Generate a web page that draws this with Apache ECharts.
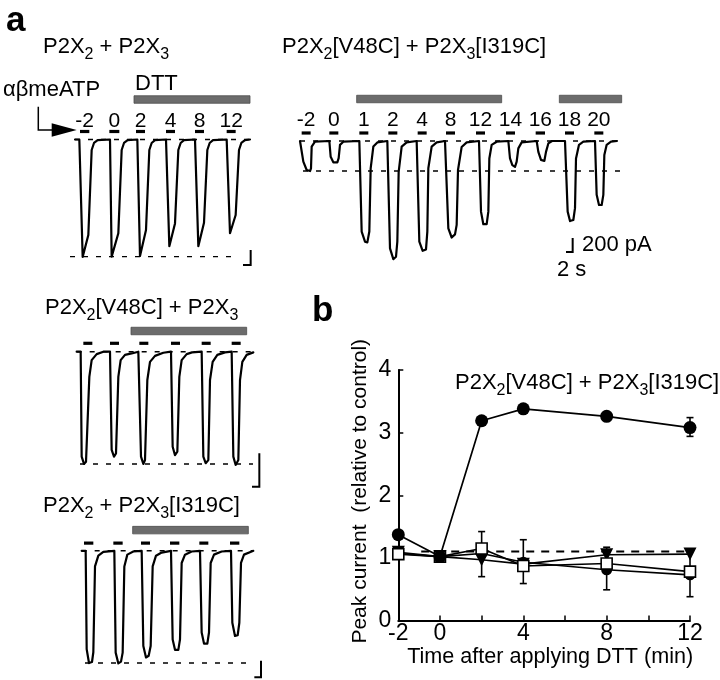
<!DOCTYPE html>
<html><head><meta charset="utf-8">
<script src="https://cdn.jsdelivr.net/npm/echarts@6/dist/echarts.min.js"></script>
<style>html,body{margin:0;padding:0;background:#fff}#c{width:720px;height:680px}</style>
</head><body><div id="c"></div>
<script>
// ===== Panel a: current traces (time in s, current in pA) =====
// P2X2 + P2X3
const tlTrace = [
 [1.5,0],
 [2.8,0],[3.8,-1680],[5.5,-1365],[6.5,-150],[7.2,-50],[8.3,-10],
 [12.0,0],[12.5,-1675],[14.5,-1340],[15.5,-150],[16.2,-50],[17.3,-10],
 [20.2,0],[21.0,-1665],[22.8,-1295],[23.8,-150],[24.5,-50],[25.5,-10],
 [28.8,0],[29.8,-1525],[31.5,-1200],[32.5,-150],[33.2,-50],[34.2,-10],
 [37.5,0],[38.5,-1525],[40.2,-1190],[41.2,-150],[41.9,-50],[42.9,-10],
 [47.0,0],[48.0,-1340],[49.7,-1080],[50.7,-150],[51.4,-50],[52.5,-10],
 [54.0,0]
];
const tlApps = [[3.0,5.8],[11.8,14.8],[19.8,22.5],[28.8,31.5],[37.5,40.2],[47.0,49.7]];
const tlLabels = ['-2','0','2','4','8','12'];
const tlDTT = [[19.2,54.0]];
const tlRef = -1675;
const tlScale = [2.3, 215];

// P2X2[V48C] + P2X3[I319C]
const trTrace = [
 [0,0],
 [0.5,0],[1.0,-295],[2.0,-415],[3.0,-430],[3.3,-390],[3.5,-80],[4.5,-10],
 [8.8,0],[9.2,-225],[10.0,-305],[11.2,-305],[11.6,-245],[12.0,-55],[13.0,-10],
 [17.8,0],[18.5,-1295],[19.5,-1440],[20.2,-1450],[20.8,-1295],[21.2,-390],[22.0,-80],[23.2,-20],
 [26.2,0],[27.0,-1535],[28.0,-1690],[28.8,-1655],[29.2,-1440],[29.6,-440],[30.5,-80],[32.0,-20],
 [35.0,0],[35.8,-1440],[36.8,-1570],[37.8,-1550],[38.2,-1295],[38.5,-390],[39.5,-80],[41.0,-20],
 [43.5,0],[44.5,-1250],[45.5,-1380],[46.5,-1335],[47.0,-1200],[47.4,-415],[48.5,-85],[50.0,-20],
 [53.7,0],[54.3,-1010],[55.0,-1190],[56.0,-1190],[56.5,-1010],[56.8,-250],[57.5,-55],[59.0,-10],
 [62.5,0],[63.0,-250],[63.7,-345],[64.5,-370],[65.0,-295],[65.5,-105],[66.5,-20],
 [71.0,0],[71.5,-155],[72.3,-270],[73.3,-285],[73.8,-155],[74.5,-35],[75.6,0],
 [79.5,0],[80.3,-1010],[81.0,-1145],[82.0,-1130],[82.5,-960],[82.8,-250],[83.7,-55],[85.0,-10],
 [88.5,0],[89.0,-770],[89.7,-915],[90.5,-915],[91.0,-770],[91.3,-200],[92.0,-55],[93.3,-10],
 [95.1,0]
];
const trApps = [[0.5,3.2],[8.8,11.5],[17.8,20.5],[26.5,29.2],[35.3,38.0],[43.8,46.5],[52.8,55.5],[61.8,64.5],[70.7,73.5],[79.5,82.2],[88.3,91.0]];
const trLabels = ['-2','0','1','2','4','8','12','14','16','18','20'];
const trDTT = [[17.0,60.5],[77.8,96.5]];
const trRef = -430;
const trScale = [2, 200];

// P2X2[V48C] + P2X3
const mlTrace = [
 [0.5,0],
 [1.7,0],[2.0,-1500],[2.7,-1605],[3.3,-1575],[4.3,-360],[5.0,-120],[6.5,-35],[8.5,0],
 [10.5,0],[11.0,-1405],[11.7,-1500],[12.3,-1455],[13.0,-360],[13.7,-120],[15.0,-45],[17.0,-25],[19.0,0],
 [19.3,0],[19.8,-1500],[20.5,-1605],[21.0,-1550],[21.7,-405],[22.5,-145],[24.0,-60],[26.5,-15],
 [28.8,0],[29.3,-1360],[30.0,-1480],[30.7,-1430],[31.3,-360],[32.0,-120],[33.5,-35],[35.1,-10],
 [38.0,0],[38.5,-1500],[39.2,-1595],[40.0,-1550],[40.5,-405],[41.3,-145],[42.7,-45],[45.0,-10],
 [47.0,0],[47.5,-1500],[48.2,-1620],[49.0,-1550],[49.5,-405],[50.2,-145],[51.5,-45],[53.5,-10]
];
const mlApps = [[2.5,5.2],[10.5,13.2],[19.3,22.0],[28.8,31.5],[38.0,40.7],[47.0,49.7]];
const mlDTT = [[16.8,51.5]];
const mlRef = -1605;
const mlScale = [2.2, 478];

// P2X2 + P2X3[I319C]
const blTrace = [
 [2.0,0],
 [3.2,0],[3.5,-1415],[4.2,-1615],[5.1,-1600],[5.5,-1460],[6.0,-225],[7.0,-70],[8.5,-15],
 [11.8,0],[12.2,-1465],[13.0,-1620],[13.8,-1595],[14.3,-1465],[14.8,-225],[15.7,-55],[17.5,-10],
 [20.0,0],[20.5,-1370],[21.3,-1535],[22.1,-1510],[22.7,-1370],[23.3,-225],[24.3,-70],[26.0,-25],
 [28.8,0],[29.3,-1275],[30.0,-1425],[31.0,-1425],[31.5,-1275],[32.0,-175],[33.0,-55],[35.0,-10],
 [37.5,0],[38.0,-1175],[38.7,-1335],[39.7,-1335],[40.2,-1175],[40.7,-175],[41.7,-55],[44.0,-10],
 [46.8,0],[47.2,-1035],[48.0,-1225],[48.8,-1215],[49.3,-1035],[49.8,-175],[50.7,-55],[53.0,-10],[53.5,0]
];
const blApps = [[2.7,5.5],[11.5,14.3],[19.8,22.5],[28.5,31.3],[37.3,40.0],[46.5,49.3]];
const blDTT = [[17.3,52.0]];
const blRef = -1615;
const blScale = [2, 237];

// ===== Panel b: peak current relative to control =====
const timeMin = [-2, 0, 2, 4, 8, 12];
const xTickLabels = [-2, 0, 4, 8, 12];
const v48cI319c = [1.37, 1.02, 3.19, 3.38, 3.26, 3.08];
const wtPair    = [1.07, 1.02, 1.07, 0.93, 0.81, 0.73];
const v48cWt    = [1.09, 1.02, 0.97, 0.90, 1.05, 1.06];
const wtI319c   = [1.06, 1.02, 1.15, 0.87, 0.91, 0.78];
const errX  = [2, 4, 8, 12, 12];
const errLo = [0.70, 0.59, 0.49, 0.38, 2.94];
const errHi = [1.42, 1.29, 1.17, 1.12, 3.24];
const refLevel = 1.1;

// ===== layout =====
const FONT = '"Liberation Sans", Arial, Helvetica, sans-serif';
const SEC_PER_PX = 0.3, PA_PER_PX = 14.3;
const panels = [
 {trace: tlTrace, apps: tlApps, labels: tlLabels, dtt: tlDTT, ref: tlRef, scale: tlScale,
  L: {x0:70, y0:139.5, w:195, up:50, down:135, refSpan:[0,48.9], zeroSpan:[1.5,54], corner:[54.2,-1795], appOff:8, lblOff:18, dttOff:40}},
 {trace: trTrace, apps: trApps, labels: trLabels, dtt: trDTT, ref: trRef, scale: trScale,
  L: {x0:300, y0:141, w:330, up:50, down:130, refSpan:[0.9,96.6], zeroSpan:[0,96], corner:[81.8,-1587], appOff:8, lblOff:21, dttOff:42}},
 {trace: mlTrace, apps: mlApps, labels: null, dtt: mlDTT, ref: mlRef, scale: mlScale,
  L: {x0:75, y0:351.7, w:195, up:30, down:140, refSpan:[1.5,53.4], zeroSpan:[0.5,53.5], corner:[55.3,-1930], appOff:8.4, lblOff:0, dttOff:20.7}},
 {trace: blTrace, apps: blApps, labels: null, dtt: blDTT, ref: blRef, scale: blScale,
  L: {x0:75, y0:551, w:195, up:30, down:130, refSpan:[3.0,51.5], zeroSpan:[2.0,53.5], corner:[55.8,-1820], appOff:7.7, lblOff:0, dttOff:20.7}}
];

const grids = [], xAxes = [], yAxes = [], series = [];
panels.forEach((p, k) => {
  const L = p.L;
  grids.push({left: L.x0, top: L.y0 - L.up, width: L.w, height: L.up + L.down});
  xAxes.push({gridIndex: k, type: 'value', min: 0, max: L.w * SEC_PER_PX, show: false});
  yAxes.push({gridIndex: k, type: 'value', min: -L.down * PA_PER_PX, max: L.up * PA_PER_PX, show: false});
  const base = {xAxisIndex: k, yAxisIndex: k, silent: true, animation: false};
  series.push(Object.assign({}, base, {type: 'line', symbol: 'none', clip: false,
    data: [[L.zeroSpan[0], 0], [L.zeroSpan[1], 0]],
    lineStyle: {color: '#000', width: 1.4, type: [5, 8]}}));
  series.push(Object.assign({}, base, {type: 'line', symbol: 'none', clip: false,
    data: [[L.refSpan[0], p.ref], [L.refSpan[1], p.ref]],
    lineStyle: {color: '#000', width: 1.4, type: [5, 8]}}));
  series.push(Object.assign({}, base, {type: 'line', symbol: 'none', clip: false, data: p.trace,
    lineStyle: {color: '#000', width: 2.2, join: 'round', cap: 'round'}, z: 3}));
  series.push(Object.assign({}, base, {type: 'custom', data: p.apps, clip: false, z: 4,
    renderItem: (params, api) => {
      const a = api.coord([api.value(0), 0]), b = api.coord([api.value(1), 0]);
      const kids = [{type: 'rect', shape: {x: a[0], y: a[1] - L.appOff - 1.6, width: b[0] - a[0], height: 3.2}, style: {fill: '#000'}}];
      if (p.labels) kids.push({type: 'text', x: (a[0] + b[0]) / 2, y: a[1] - L.lblOff,
        style: {text: p.labels[params.dataIndex], fontSize: 21, fontFamily: FONT, fill: '#000', align: 'center', verticalAlign: 'middle'}});
      return {type: 'group', children: kids};
    }}));
  series.push(Object.assign({}, base, {type: 'custom', data: p.dtt, clip: false, z: 4,
    renderItem: (params, api) => {
      const a = api.coord([api.value(0), 0]), b = api.coord([api.value(1), 0]);
      return {type: 'rect', shape: {x: a[0], y: a[1] - L.dttOff - 3.75, width: b[0] - a[0], height: 7.5},
        style: {fill: '#6c6c6c', stroke: '#4c4c4c', lineWidth: 0.8}};
    }}));
  const c = L.corner;
  series.push(Object.assign({}, base, {type: 'line', symbol: 'none', clip: false,
    data: [[c[0] - p.scale[0], c[1]], [c[0], c[1]], [c[0], c[1] + p.scale[1]]],
    lineStyle: {color: '#000', width: 2, join: 'miter'}}));
});

// Panel b grid
const B = 4;
grids.push({left: 398.3, top: 370, width: 291.7, height: 250.5});
xAxes.push({gridIndex: B, type: 'value', min: -2, max: 12, interval: 2,
  name: 'Time after applying DTT (min)', nameLocation: 'middle', nameGap: 25,
  nameTextStyle: {fontSize: 21.6, fontFamily: FONT, color: '#000', padding: [0, 0, 0, 12]},
  axisLine: {onZero: false, lineStyle: {color: '#000', width: 2}},
  axisTick: {inside: true, length: 5, lineStyle: {color: '#000', width: 1.5}},
  axisLabel: {fontSize: 23, fontFamily: FONT, color: '#000', margin: 2,
    formatter: v => xTickLabels.indexOf(v) >= 0 ? String(v) : ''},
  splitLine: {show: false}});
yAxes.push({gridIndex: B, type: 'value', min: 0, max: 4, interval: 1,
  name: 'Peak current  (relative to control)', nameLocation: 'middle', nameGap: 28, nameRotate: 90,
  nameTextStyle: {fontSize: 21, fontFamily: FONT, color: '#000', padding: [0, 0, 0, 8]},
  axisLine: {show: true, onZero: false, lineStyle: {color: '#000', width: 2}},
  axisTick: {show: true, inside: true, length: 5, lineStyle: {color: '#000', width: 1.5}},
  axisLabel: {fontSize: 23, fontFamily: FONT, color: '#000', margin: 7},
  splitLine: {show: false}});

const zip = arr => timeMin.map((t, i) => [t, arr[i]]);
const bBase = {xAxisIndex: B, yAxisIndex: B, silent: true, animation: false};
series.push(Object.assign({}, bBase, {type: 'line', symbol: 'none', clip: false,
  data: [[-0.9, refLevel], [12.25, refLevel]], lineStyle: {color: '#000', width: 2, type: [8, 7]}, z: 1}));
series.push(Object.assign({}, bBase, {type: 'custom', z: 2,
  data: errX.map((x, i) => [x, errLo[i], errHi[i]]),
  encode: {x: 0, y: [1, 2]},
  renderItem: (params, api) => {
    const a = api.coord([api.value(0), api.value(1)]), b = api.coord([api.value(0), api.value(2)]);
    const st = {stroke: '#000', lineWidth: 1.6};
    return {type: 'group', children: [
      {type: 'line', shape: {x1: a[0], y1: a[1], x2: b[0], y2: b[1]}, style: st},
      {type: 'line', shape: {x1: a[0] - 3.5, y1: a[1], x2: a[0] + 3.5, y2: a[1]}, style: st},
      {type: 'line', shape: {x1: b[0] - 3.5, y1: b[1], x2: b[0] + 3.5, y2: b[1]}, style: st}]};
  }}));
series.push(Object.assign({}, bBase, {type: 'line', data: zip(wtPair), symbol: 'circle', symbolSize: 11,
  itemStyle: {color: '#000'}, lineStyle: {color: '#000', width: 1.7}, z: 3}));
series.push(Object.assign({}, bBase, {type: 'line', data: zip(v48cWt), symbol: 'triangle', symbolRotate: 180, symbolSize: 13,
  itemStyle: {color: '#000'}, lineStyle: {color: '#000', width: 1.7}, z: 3}));
series.push(Object.assign({}, bBase, {type: 'line', data: zip(wtI319c), symbol: 'rect', symbolSize: 11,
  itemStyle: {color: '#fff', borderColor: '#000', borderWidth: 1.6}, lineStyle: {color: '#000', width: 1.7}, z: 4}));
series.push(Object.assign({}, bBase, {type: 'line', data: zip(v48cI319c), symbol: 'circle', symbolSize: 13,
  itemStyle: {color: '#000'}, lineStyle: {color: '#000', width: 1.7}, z: 5}));

// ===== texts =====
const subStyle = {fontSize: 16, fontFamily: FONT, fill: '#000', padding: [16, 0, 0, 0]};
function txt(x, y, text, opts) {
  return Object.assign({type: 'text', x: x, y: y, z: 10, silent: true,
    style: Object.assign({text: text, fontSize: 22, fontFamily: FONT, fill: '#000', align: 'left', verticalAlign: 'middle',
      rich: {s: subStyle}}, opts || {})});
}
const graphics = [
  txt(6, 21, 'a', {fontSize: 35, fontWeight: 'bold'}),
  txt(312, 311, 'b', {fontSize: 35, fontWeight: 'bold'}),
  txt(43, 47, 'P2X{s|2} + P2X{s|3}'),
  txt(282, 47, 'P2X{s|2}[V48C] + P2X{s|3}[I319C]'),
  txt(45, 308, 'P2X{s|2}[V48C] + P2X{s|3}'),
  txt(43, 506, 'P2X{s|2} + P2X{s|3}[I319C]'),
  txt(135, 84, 'DTT'),
  txt(3, 90, 'αβmeATP'),
  txt(455, 383, 'P2X{s|2}[V48C] + P2X{s|3}[I319C]'),
  txt(582, 245, '200 pA'),
  txt(557, 270, '2 s'),
  {type: 'polyline', silent: true, z: 10, shape: {points: [[38.3, 106.7], [38.3, 130], [53, 130]]},
   style: {stroke: '#000', lineWidth: 1.5, fill: null}},
  {type: 'polygon', silent: true, z: 10, shape: {points: [[51.7, 123.3], [76.7, 130], [51.7, 136.7]]},
   style: {fill: '#000'}}
];

const chart = echarts.init(document.getElementById('c'), null, {renderer: 'canvas', width: 720, height: 680});
chart.setOption({
  animation: false,
  backgroundColor: '#fff',
  textStyle: {fontFamily: FONT},
  grid: grids, xAxis: xAxes, yAxis: yAxes, series: series, graphic: graphics
});
</script></body></html>
